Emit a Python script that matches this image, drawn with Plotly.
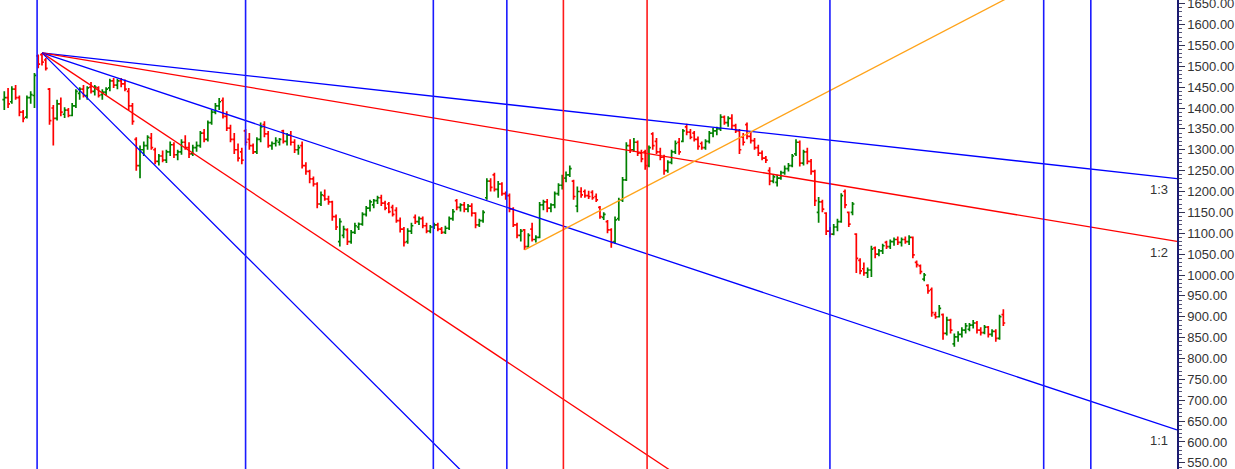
import plotly.graph_objects as go

# ---------------- data ----------------
opens = [
    1420, 1425, 1415, 1445, 1425, 1390, 1378, 1425, 1430, 1525,
    1528, 1515, 1445, 1400, 1375, 1410, 1385, 1395, 1382, 1405,
    1435, 1445, 1430, 1450, 1440, 1448, 1432, 1438, 1448, 1465,
    1455, 1465, 1458, 1440, 1405, 1325, 1262, 1300, 1310, 1328,
    1300, 1272, 1285, 1275, 1295, 1312, 1288, 1295, 1318, 1305,
    1290, 1305, 1310, 1340, 1325, 1365, 1390, 1405, 1418, 1380,
    1352, 1325, 1300, 1295, 1345, 1325, 1310, 1295, 1325, 1360,
    1338, 1310, 1315, 1318, 1345, 1320, 1335, 1318, 1300, 1310,
    1262, 1248, 1230, 1218, 1170, 1190, 1182, 1175, 1140, 1080,
    1095, 1108, 1080, 1102, 1115, 1122, 1145, 1160, 1168, 1178,
    1185, 1172, 1170, 1162, 1155, 1130, 1110, 1080, 1105, 1138,
    1128, 1135, 1118, 1105, 1115, 1120, 1110, 1102, 1112, 1135,
    1178, 1162, 1168, 1158, 1165, 1148, 1120, 1130, 1185, 1225,
    1240, 1205, 1218, 1195, 1190, 1158, 1120, 1095, 1108, 1068,
    1110, 1085, 1090, 1168, 1175, 1160, 1168, 1195, 1215, 1232,
    1240, 1225, 1165, 1200, 1200, 1190, 1198, 1188, 1162, 1138,
    1128, 1108, 1080, 1135, 1180, 1228, 1310, 1300, 1318, 1292,
    1295, 1262, 1338, 1320, 1295, 1282, 1250, 1270, 1295, 1318,
    1320, 1355, 1342, 1340, 1325, 1315, 1305, 1320, 1340, 1345,
    1350, 1378, 1365, 1375, 1358, 1345, 1330, 1360, 1332, 1322,
    1305, 1292, 1280, 1250, 1225, 1222, 1232, 1245, 1255, 1262,
    1290, 1318, 1268, 1295, 1272, 1248, 1150, 1175, 1148, 1105,
    1098, 1115, 1128, 1200, 1150, 1150, 1098, 1035, 1015, 1005,
    1012, 1065, 1050, 1058, 1078, 1068, 1080, 1085, 1078, 1085,
    1080, 1090, 1030, 1022, 990, 975, 965, 905, 900, 905,
    860, 892, 835, 852, 858, 868, 870, 880, 885, 868,
    862, 875, 858, 865, 848, 905,
]
highs = [
    1440, 1448, 1452, 1455, 1430, 1395, 1430, 1440, 1484, 1528,
    1532, 1520, 1448, 1407, 1420, 1425, 1402, 1400, 1412, 1445,
    1450, 1455, 1452, 1462, 1455, 1452, 1445, 1450, 1470, 1472,
    1470, 1472, 1468, 1448, 1412, 1330, 1310, 1320, 1335, 1340,
    1305, 1290, 1298, 1300, 1320, 1318, 1300, 1325, 1335, 1318,
    1312, 1320, 1345, 1350, 1370, 1395, 1412, 1424, 1425, 1392,
    1360, 1340, 1315, 1305, 1350, 1340, 1315, 1330, 1365, 1368,
    1345, 1320, 1330, 1328, 1348, 1340, 1345, 1325, 1312, 1320,
    1270, 1252, 1236, 1222, 1200, 1205, 1190, 1178, 1145, 1136,
    1118, 1112, 1108, 1125, 1126, 1150, 1165, 1180, 1182, 1190,
    1192, 1178, 1175, 1168, 1162, 1138, 1115, 1112, 1125, 1145,
    1140, 1140, 1125, 1120, 1125, 1125, 1115, 1118, 1140, 1158,
    1182, 1172, 1175, 1170, 1172, 1150, 1135, 1155, 1232, 1232,
    1245, 1225, 1222, 1200, 1195, 1162, 1125, 1110, 1110, 1100,
    1125, 1095, 1175, 1180, 1182, 1172, 1200, 1220, 1240, 1248,
    1262, 1228, 1212, 1210, 1205, 1202, 1203, 1195, 1165, 1150,
    1132, 1112, 1140, 1185, 1235, 1318, 1325, 1328, 1322, 1300,
    1300, 1310, 1342, 1328, 1305, 1288, 1275, 1300, 1322, 1328,
    1350, 1362, 1350, 1345, 1332, 1320, 1325, 1345, 1352, 1355,
    1385, 1382, 1380, 1385, 1362, 1350, 1340, 1365, 1345, 1328,
    1312, 1298, 1285, 1258, 1240, 1240, 1250, 1262, 1268, 1290,
    1325, 1322, 1300, 1305, 1278, 1252, 1187, 1180, 1150, 1115,
    1122, 1135, 1196, 1205, 1152, 1175, 1100, 1040, 1030, 1018,
    1070, 1068, 1062, 1075, 1082, 1085, 1090, 1092, 1090, 1092,
    1095, 1092, 1035, 1025, 1005, 978, 970, 912, 928, 908,
    900, 895, 860, 865, 875, 885, 885, 892, 890, 875,
    880, 878, 870, 870, 905, 918,
]
lows = [
    1395, 1400, 1410, 1420, 1380, 1366, 1375, 1410, 1400, 1495,
    1502, 1490, 1360, 1310, 1370, 1380, 1376, 1378, 1380, 1400,
    1420, 1425, 1420, 1435, 1430, 1425, 1420, 1430, 1440, 1448,
    1445, 1450, 1440, 1395, 1360, 1250, 1232, 1285, 1300, 1300,
    1265, 1262, 1270, 1268, 1285, 1280, 1275, 1288, 1300, 1280,
    1285, 1295, 1305, 1318, 1320, 1360, 1385, 1395, 1375, 1345,
    1318, 1290, 1272, 1265, 1310, 1300, 1290, 1290, 1318, 1330,
    1305, 1300, 1308, 1310, 1315, 1310, 1310, 1292, 1288, 1255,
    1240, 1220, 1212, 1160, 1165, 1178, 1168, 1130, 1108, 1068,
    1088, 1072, 1075, 1098, 1108, 1118, 1140, 1152, 1160, 1170,
    1165, 1155, 1148, 1140, 1125, 1102, 1068, 1075, 1098, 1122,
    1120, 1112, 1100, 1100, 1110, 1105, 1098, 1098, 1108, 1130,
    1155, 1152, 1150, 1150, 1140, 1112, 1115, 1125, 1180, 1200,
    1200, 1185, 1190, 1180, 1150, 1115, 1088, 1080, 1060, 1065,
    1080, 1078, 1088, 1155, 1150, 1150, 1160, 1190, 1205, 1222,
    1235, 1180, 1150, 1185, 1185, 1182, 1180, 1175, 1135, 1132,
    1100, 1065, 1075, 1130, 1175, 1225, 1292, 1295, 1285, 1270,
    1252, 1258, 1300, 1290, 1275, 1240, 1245, 1265, 1290, 1288,
    1318, 1335, 1325, 1320, 1300, 1300, 1300, 1315, 1330, 1335,
    1345, 1360, 1355, 1350, 1340, 1290, 1310, 1325, 1315, 1300,
    1285, 1275, 1268, 1215, 1220, 1212, 1228, 1240, 1248, 1258,
    1285, 1260, 1262, 1265, 1240, 1165, 1125, 1150, 1096, 1090,
    1095, 1105, 1125, 1160, 1115, 1143, 1005, 1002, 998, 993,
    995, 1040, 1045, 1050, 1062, 1062, 1070, 1072, 1068, 1075,
    1072, 1040, 1018, 1002, 985, 955, 900, 895, 898, 845,
    855, 860, 828, 840, 850, 860, 865, 872, 860, 855,
    858, 850, 852, 840, 845, 878,
]
closes = [
    1425, 1410, 1445, 1425, 1390, 1375, 1425, 1432, 1478, 1505,
    1510, 1495, 1370, 1375, 1410, 1390, 1395, 1382, 1405, 1440,
    1445, 1430, 1448, 1440, 1450, 1430, 1438, 1445, 1465, 1455,
    1465, 1458, 1445, 1405, 1368, 1262, 1300, 1310, 1330, 1305,
    1272, 1285, 1275, 1295, 1312, 1288, 1295, 1318, 1305, 1290,
    1305, 1310, 1340, 1325, 1365, 1390, 1405, 1415, 1380, 1352,
    1325, 1300, 1280, 1275, 1318, 1310, 1295, 1325, 1355, 1338,
    1310, 1315, 1322, 1325, 1320, 1335, 1318, 1300, 1305, 1262,
    1248, 1230, 1218, 1170, 1192, 1182, 1175, 1140, 1115, 1128,
    1110, 1080, 1102, 1118, 1122, 1145, 1160, 1175, 1178, 1185,
    1172, 1160, 1152, 1145, 1130, 1110, 1078, 1105, 1118, 1128,
    1135, 1118, 1105, 1115, 1120, 1110, 1102, 1112, 1135, 1152,
    1162, 1168, 1158, 1165, 1148, 1120, 1130, 1150, 1225, 1210,
    1205, 1218, 1195, 1190, 1158, 1120, 1095, 1105, 1068, 1095,
    1085, 1090, 1168, 1175, 1160, 1168, 1195, 1215, 1232, 1240,
    1255, 1188, 1200, 1192, 1190, 1188, 1185, 1180, 1140, 1145,
    1108, 1078, 1132, 1180, 1228, 1310, 1300, 1318, 1292, 1278,
    1262, 1305, 1310, 1295, 1282, 1250, 1270, 1295, 1315, 1295,
    1345, 1342, 1330, 1325, 1308, 1305, 1320, 1340, 1345, 1350,
    1378, 1365, 1375, 1358, 1345, 1300, 1318, 1332, 1322, 1305,
    1292, 1280, 1275, 1225, 1235, 1232, 1245, 1255, 1262, 1285,
    1318, 1268, 1295, 1272, 1248, 1178, 1175, 1158, 1105, 1098,
    1115, 1128, 1190, 1168, 1122, 1170, 1040, 1010, 1005, 1012,
    1062, 1050, 1058, 1070, 1068, 1080, 1085, 1078, 1085, 1080,
    1090, 1048, 1025, 1008, 1000, 962, 910, 900, 920, 860,
    892, 868, 852, 858, 868, 878, 880, 885, 868, 862,
    875, 858, 865, 848, 900, 885,
]
bar_index = list(range(len(closes)))

# Gann fan from the pivot high
fan_pivot_index = 10
fan_pivot_price = 1532
fan_unit = 3.0  # price per bar for the 1:1 angle
fan_names = ["1:3", "1:2", "1:1", "2:1", "3:1"]
fan_ratios = [1 / 3, 1 / 2, 1.0, 2.0, 3.0]
fan_colors = ["#0000ff", "#ff0000", "#0000ff", "#ff0000", "#0000ff"]
fan_labelled = ["1:3", "1:2", "1:1"]

# rising line from the swing low
up_start_index = 138
up_start_price = 1060
up_slope = 4.71

# time-cycle verticals (bar positions)
blue_verticals = [8.7, 64.0, 113.8, 133.3, 219.0, 275.7, 288.2]
red_verticals = [148.3, 170.5]

# price axis ticks
y_ticks = list(range(550, 1651, 50))
y_tick_labels = [f"{v:.2f}" for v in y_ticks]

X_MIN, X_MAX = -1.14, 311.06
Y_MIN, Y_MAX = 535.3, 1658.7

# ---------------- figure ----------------
fig = go.Figure()

fig.add_trace(go.Ohlc(
    x=bar_index, open=opens, high=highs, low=lows, close=closes,
    increasing=dict(line=dict(color="#008000", width=1.7)),
    decreasing=dict(line=dict(color="#ff0000", width=1.7)),
    tickwidth=0.5, hoverinfo="skip",
))

for name, r, col in zip(fan_names, fan_ratios, fan_colors):
    x_end = X_MAX
    y_end = fan_pivot_price - r * fan_unit * (x_end - fan_pivot_index)
    fig.add_trace(go.Scatter(
        x=[fan_pivot_index, x_end], y=[fan_pivot_price, y_end],
        mode="lines", line=dict(color=col, width=1.3), hoverinfo="skip",
    ))
    if name in fan_labelled:
        fig.add_annotation(
            x=x_end, y=y_end, text=name, showarrow=False,
            xanchor="right", yanchor="middle", xshift=-7, yshift=-11,
            font=dict(family="Liberation Sans, Arial", size=13, color="#333333"),
        )

fig.add_trace(go.Scatter(
    x=[up_start_index, X_MAX],
    y=[up_start_price, up_start_price + up_slope * (X_MAX - up_start_index)],
    mode="lines", line=dict(color="#ffa31a", width=1.3), hoverinfo="skip",
))

for xv in blue_verticals:
    fig.add_shape(type="line", xref="x", yref="paper", x0=xv, x1=xv, y0=0, y1=1,
                  line=dict(color="#1a1aff", width=1.6), layer="above")
for xv in red_verticals:
    fig.add_shape(type="line", xref="x", yref="paper", x0=xv, x1=xv, y0=0, y1=1,
                  line=dict(color="#ff1a1a", width=1.6), layer="above")

fig.update_layout(
    width=1235, height=469,
    margin=dict(l=0, r=58, t=0, b=0, autoexpand=False),
    paper_bgcolor="white", plot_bgcolor="white",
    showlegend=False,
    xaxis=dict(range=[X_MIN, X_MAX], visible=False, rangeslider=dict(visible=False),
               fixedrange=True, automargin=False),
    yaxis=dict(
        range=[Y_MIN, Y_MAX], side="right", showgrid=False, zeroline=False,
        automargin=False,
        tickmode="array", tickvals=y_ticks, ticktext=y_tick_labels,
        ticks="outside", ticklen=6, tickwidth=1, tickcolor="#333355",
        showline=True, linecolor="#1a1a70", linewidth=1.5,
        tickfont=dict(family="Liberation Sans, Arial", size=13, color="#333333"),
        ticklabeloverflow="allow",
        minor=dict(dtick=10, ticks="outside", ticklen=3, tickcolor="#555577"),
        fixedrange=True,
    ),
)

fig.write_html(
    "out.html",
    config={"displayModeBar": False},
    post_script="document.body.style.margin='0';document.body.style.overflow='hidden';",
)
